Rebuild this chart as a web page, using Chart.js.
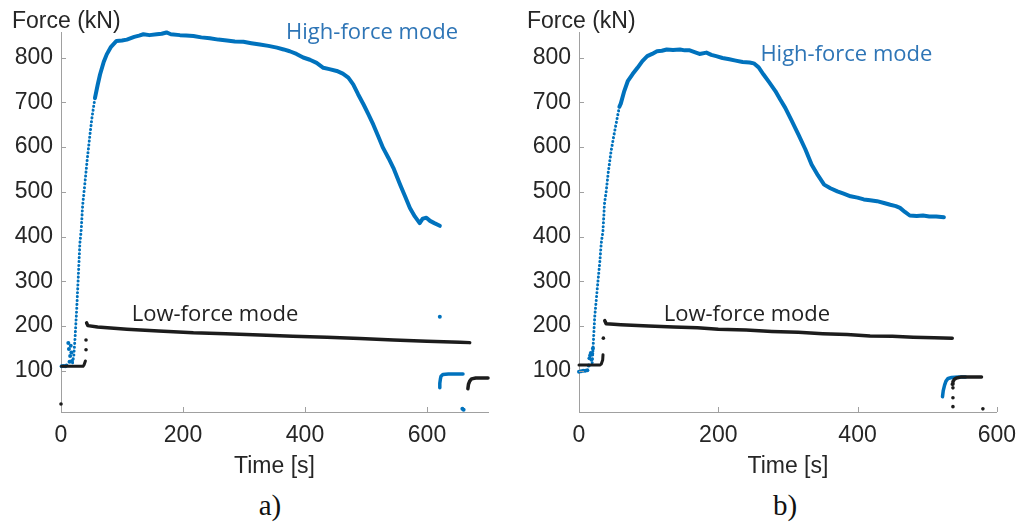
<!DOCTYPE html>
<html>
<head>
<meta charset="utf-8">
<script src="https://cdn.jsdelivr.net/npm/chart.js@4"></script>
<style>
  body { margin: 0; background: #fff; width: 1026px; height: 524px; overflow: hidden; position: relative; }
  .box { position: absolute; top: 0; width: 513px; height: 480px; }
  .cap { position: absolute; top: 487px; width: 80px; text-align: center; font-family: 'Liberation Serif', 'Times New Roman', serif; font-size: 29px; line-height: 36px; color: #111; }
</style>
</head>
<body>
<div class="box" style="left:0"><canvas id="chartA" width="513" height="480"></canvas></div>
<div class="box" style="left:513px"><canvas id="chartB" width="513" height="480"></canvas></div>
<div class="cap" style="left:230px">a)</div>
<div class="cap" style="left:745px">b)</div>
<script>
// ---- data, [time s, force kN] ----
const xTicks = [0, 200, 400, 600]
const yTicks = [100, 200, 300, 400, 500, 600, 700, 800]

// a) high-force mode (blue)
const aHighStart = [[1,110],[4,111],[7,110],[9,112],[12,162],[13,149],[14,120],[15,133],[16,156],[17,141],[18,122]]
const aHighRise = [[19,118],[21,135],[23,172],[25.7,236],[28.4,311],[31,386],[33,412],[35.5,470],[39,516],[43,572],[47.5,628],[51,668],[55.7,710]]
const aHighMain = [[55.7,710],[60,738],[64,762],[70,790],[75,807],[82,824],[91,837],[100,838],[108,840],[120,846],[128,849],[135,852],[145,850],[157,852],[165,853],[173,856],[180,852],[195,850],[205,849],[217,848],[230,845],[244,843],[258,840],[272,838],[285,836],[299,835],[312,832],[326,829],[340,826],[354,822],[365,818],[375,814],[386,808],[397,800],[408,795],[419,788],[430,777],[440,774],[452,770],[462,764],[471,755],[479,740],[487,718],[496,695],[504,673],[512,650],[520,624],[528,598],[537,575],[545,553],[556,516],[564,490],[572,464],[580,445],[588,430],[593,440],[599,442],[605,435],[612,430],[621,424]]
const aHighSpike = [[621,221],[658,15],[660,13]]
const aHighEnd = [[621,62],[621,72],[622,82],[623,88],[626,92],[635,93],[647,93],[659,93]]

// a) low-force mode (black)
const aLowDots = [[0,26],[41,147],[41,169]]
const aLowStart = [[1,110],[10,110],[20,110],[30,110],[36,110],[38,114],[40,122]]
const aLowMain = [[42,207],[44,201],[60,198],[108,193],[160,189],[217,185],[270,183],[326,180],[380,177],[436,175],[490,172],[545,169],[600,166],[654,164],[670,163]]
const aLowEnd = [[667,60],[668,70],[670,77],[673,82],[680,84],[700,84]]

// b) high-force mode (blue)
const bHighStart = [[0,98],[3,99],[6,100],[9,100],[12,101],[14,112],[15,128],[16,135],[17,140],[18,125],[19,138],[20,150]]
const bHighRise = [[19,118],[20.5,160],[22.6,221],[25,262],[27,296],[30,345],[32,386],[34.4,412],[36.7,475],[39,500],[42,543],[46,590],[50,625],[53,650],[58,690]]
const bHighMain = [[58,690],[60,697],[65,725],[70,747],[77,763],[84,777],[91,792],[98,803],[105,808],[112,814],[119,815],[126,818],[135,817],[145,818],[152,816],[159,816],[166,812],[173,808],[183,811],[190,806],[197,803],[206,799],[216,796],[225,793],[235,790],[245,789],[251,787],[258,778],[265,762],[273,745],[282,725],[289,706],[296,688],[305,660],[315,628],[325,595],[334,561],[343,537],[352,516],[361,508],[371,501],[380,496],[390,490],[400,487],[409,483],[418,481],[428,479],[438,475],[447,471],[455,468],[461,464],[468,455],[475,447],[485,446],[494,447],[503,445],[513,445],[524,443]]
const bHighEnd = [[522,42],[523,55],[525,68],[527,77],[530,83],[535,85],[545,86],[555,86]]

// b) low-force mode (black)
const bLowDots = [[35,173],[537,62],[537,40],[537,20],[580,15]]
const bLowStart = [[0,113],[10,113],[20,113],[30,113],[32,115],[34,124],[34.5,136]]
const bLowMain = [[37,212],[39,205],[50,204],[60,203],[100,200],[136,198],[170,196],[200,193],[240,191],[277,188],[315,186],[350,183],[385,181],[418,178],[450,177],[480,175],[510,174],[536,173]]
const bLowEnd = [[536,70],[537,76],[539,81],[542,84],[548,86],[560,86],[578,86]]

const BLUE = '#0072bd'
const BLACK = '#1c1c1c'
const TEXT = '#262626'

const pts = arr => arr.map(([x, y]) => ({x, y}))

const line = (arr, color, width) => ({
    data: pts(arr), showLine: true, borderColor: color, borderWidth: width,
    pointRadius: 0, borderCapStyle: 'round', borderJoinStyle: 'round', clip: false
})
const dotted = (arr, color) => ({
    data: pts(arr), showLine: true, borderColor: color, borderWidth: 3,
    borderDash: [0.1, 3.8], borderCapStyle: 'round', pointRadius: 0, clip: false
})
const dots = (arr, color, r) => ({
    data: pts(arr), showLine: false, backgroundColor: color, borderWidth: 0,
    pointRadius: r, clip: false
})

// inward tick marks, y label and in-plot notes (MATLAB look)
const decor = {
    id: 'decor',
    afterDraw(chart, args, opts) {
        const {ctx, chartArea: a, scales: {x, y}} = chart
        ctx.save()
        ctx.strokeStyle = '#a0a0a0'
        ctx.lineWidth = 1
        ctx.beginPath()
        x.ticks.forEach(t => {
            const px = Math.round(x.getPixelForValue(t.value)) + 0.5
            ctx.moveTo(px, a.bottom); ctx.lineTo(px, a.bottom - 5)
        })
        y.ticks.forEach(t => {
            const py = Math.round(y.getPixelForValue(t.value)) + 0.5
            ctx.moveTo(a.left, py); ctx.lineTo(a.left + 5, py)
        })
        ctx.stroke()

        ctx.textAlign = 'left'
        ctx.textBaseline = 'middle'
        ctx.fillStyle = TEXT
        ctx.font = '23px "Liberation Sans", Arial, sans-serif'
        ctx.fillText(opts.yLabel, a.left - opts.yLabelOffset, 22)

        ctx.font = '22px "Open Sans", "Noto Sans", sans-serif'
        opts.notes.forEach(n => {
            ctx.fillStyle = n.color
            ctx.fillText(n.text, x.getPixelForValue(n.x), y.getPixelForValue(n.y))
        })
        ctx.restore()
    }
}

const makeOptions = (xMax, axisWidth, rightPad, yLabelOffset, notes) => ({
    responsive: false,
    animation: false,
    layout: {padding: {top: 32, right: rightPad, bottom: 0, left: 0}},
    plugins: {
        legend: {display: false},
        tooltip: {enabled: false},
        decor: {yLabel: 'Force (kN)', yLabelOffset, notes}
    },
    scales: {
        x: {
            type: 'linear', min: 0, max: xMax,
            afterBuildTicks: s => { s.ticks = xTicks.map(v => ({value: v})) },
            afterFit: s => { s.height = 68 },
            grid: {display: false, drawTicks: false},
            border: {color: '#a0a0a0', width: 1},
            ticks: {padding: 10, color: TEXT, font: {family: '"Liberation Sans", Arial', size: 23}},
            title: {display: true, text: 'Time [s]', color: TEXT, padding: 0,
                    font: {family: '"Liberation Sans", Arial', size: 23}}
        },
        y: {
            type: 'linear', min: 8, max: 857,
            afterBuildTicks: s => { s.ticks = yTicks.map(v => ({value: v})) },
            afterFit: s => { s.width = axisWidth },
            grid: {display: false, drawTicks: false},
            border: {color: '#a0a0a0', width: 1},
            ticks: {padding: 8, color: TEXT, font: {family: '"Liberation Sans", Arial', size: 23}}
        }
    }
})

new Chart(document.getElementById('chartA'), {
    type: 'scatter',
    data: {datasets: [
        line(aLowStart, BLACK, 3),
        line(aLowMain, BLACK, 3.5),
        line(aLowEnd, BLACK, 3.5),
        dots(aLowDots, BLACK, 1.8),
        dots(aHighStart, BLUE, 2),
        dotted(aHighRise, BLUE),
        line(aHighMain, BLUE, 4),
        line(aHighEnd, BLUE, 3.5),
        dots(aHighSpike, BLUE, 2)
    ]},
    options: makeOptions(700, 61, 25, 49, [
        {text: 'High-force mode', x: 369, y: 856, color: '#2e75b6'},
        {text: 'Low-force mode', x: 116, y: 225, color: '#222'}
    ]),
    plugins: [decor]
})

new Chart(document.getElementById('chartB'), {
    type: 'scatter',
    data: {datasets: [
        line(bLowStart, BLACK, 3),
        line(bLowMain, BLACK, 3.5),
        line(bLowEnd, BLACK, 3.5),
        dots(bLowDots, BLACK, 1.8),
        dots(bHighStart, BLUE, 2),
        dotted(bHighRise, BLUE),
        line(bHighMain, BLUE, 4),
        line(bHighEnd, BLUE, 3.5)
    ]},
    options: makeOptions(600, 66, 22, 52, [
        {text: 'High-force mode', x: 260.5, y: 807, color: '#2e75b6'},
        {text: 'Low-force mode', x: 121.6, y: 225, color: '#222'}
    ]),
    plugins: [decor]
})
</script>
</body>
</html>
